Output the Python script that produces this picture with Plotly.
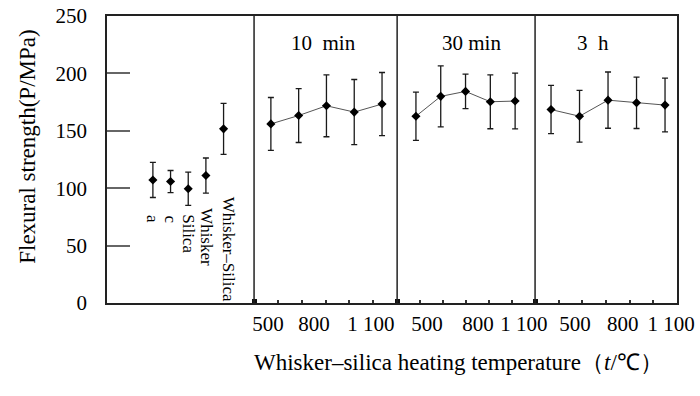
import plotly.graph_objects as go

# ---------------- data ----------------
ref_labels = ["a", "c", "Silica", "Whisker", "Whisker\u2013Silica"]
ref_values = [107.2, 105.8, 99.5, 111.0, 151.7]
ref_errors = [15.3, 9.6, 14.5, 15.3, 22.2]

group_names = ["10\u00a0\u00a0min", "30 min", "3\u00a0\u00a0h"]
temperatures = [500, 650, 800, 950, 1100]
values_10min = [156.0, 163.3, 171.8, 166.3, 173.3]
errors_10min = [23.0, 23.5, 27.0, 28.4, 27.5]
values_30min = [162.7, 180.0, 184.3, 175.3, 175.9]
errors_30min = [21.0, 26.5, 15.0, 23.5, 24.3]
values_3h = [168.5, 162.7, 176.7, 174.4, 172.4]
errors_3h = [21.0, 22.5, 24.5, 22.4, 23.4]

tick_labels = ["500", "800", "1\u00a0100"] * 3
y_ticks = [0, 50, 100, 150, 200, 250]

# ---------------- layout constants ----------------
FONT = "Liberation Serif, Times New Roman, serif"
X_RANGE = [0, 20]
dividers = [5.16, 10.18, 15.02, 20.0]
ref_start, ref_step = 1.61, 0.62
group_starts = [5.75, 10.84, 15.58]
group_steps = [0.975, 0.87, 1.0]
tick_pos = [5.65, 7.26, 9.26, 11.23, 13.02, 14.63, 16.42, 18.1, 19.79]
title_pos = [7.58, 12.8, 17.05]

fig = go.Figure()

err_style = dict(type="data", visible=True, color="#1a1a1a", thickness=1.3, width=3)
marker_style = dict(symbol="diamond", size=7, color="black")

# reference samples
ref_x = [ref_start + i * ref_step for i in range(len(ref_values))]
fig.add_trace(go.Scatter(
    x=ref_x, y=ref_values, mode="markers",
    error_y=dict(array=ref_errors, **err_style),
    marker=marker_style, showlegend=False))

# heated groups
for start, step, vals, errs in zip(group_starts, group_steps,
                                   [values_10min, values_30min, values_3h],
                                   [errors_10min, errors_30min, errors_3h]):
    xs = [start + i * step for i in range(len(temperatures))]
    fig.add_trace(go.Scatter(
        x=xs, y=vals, mode="lines+markers",
        line=dict(color="#555555", width=1),
        error_y=dict(array=errs, **err_style),
        marker=marker_style, showlegend=False))

# dividers
for d in dividers[:-1]:
    fig.add_shape(type="line", x0=d, x1=d, y0=0, y1=250, xref="x", yref="y",
                  line=dict(color="#222222", width=1.5))

# minor dot ticks along bottom
minor_vals = []
for a, b in zip(dividers[:-1], dividers[1:]):
    minor_vals += [a + k * (b - a) / 6 for k in range(1, 6)]

annotations = []
# group titles
for name, xp in zip(group_names, title_pos):
    annotations.append(dict(x=xp, y=226.5, xref="x", yref="y", text=name,
                            showarrow=False, font=dict(size=21, color="black", family=FONT)))
# rotated reference labels
label_x_off = [0, 0, 0, 0, 0.18]
label_tops = [78.4, 78.4, 79.3, 84.5, 94.1]
for lab, xp, off, top in zip(ref_labels, ref_x, label_x_off, label_tops):
    annotations.append(dict(x=xp + off, y=top, xref="x", yref="y", text=lab,
                            textangle=90, yanchor="top", xanchor="center",
                            showarrow=False, font=dict(size=17, color="black", family=FONT)))
# axis titles
annotations.append(dict(x=-0.14, y=0.545, xref="paper", yref="paper",
                        xanchor="center", yanchor="middle",
                        text="Flexural strength(P/MPa)", textangle=-90,
                        showarrow=False, font=dict(size=23, color="black", family=FONT)))
annotations.append(dict(x=0.617, y=-0.2056, xref="paper", yref="paper",
                        xanchor="center", yanchor="middle",
                        text="Whisker\u2013silica heating temperature\uff08<i>t</i>/\u2103\uff09",
                        showarrow=False, font=dict(size=23, color="black", family=FONT)))

fig.update_layout(
    width=700, height=396,
    margin=dict(l=107, r=23, t=16, b=93, autoexpand=False),
    paper_bgcolor="white", plot_bgcolor="white",
    font=dict(family=FONT, size=21, color="black"),
    annotations=annotations,
    xaxis=dict(range=X_RANGE, showgrid=False, zeroline=False, automargin=False,
               showline=True, linecolor="#222222", linewidth=1.5, mirror=True,
               tickmode="array", tickvals=tick_pos, ticktext=tick_labels,
               ticks="", ticklabelstandoff=1,
               tickfont=dict(size=21, family=FONT, color="black"),
               minor=dict(tickmode="array", tickvals=minor_vals, ticks="inside",
                          ticklen=3, tickwidth=1.5, tickcolor="#333333")),
    xaxis2=dict(range=X_RANGE, overlaying="x", side="bottom", anchor="y",
                automargin=False,
                showgrid=False, zeroline=False, showline=False,
                tickmode="array", tickvals=dividers[:-1], ticktext=["", "", ""],
                ticks="inside", ticklen=4, tickwidth=5, tickcolor="#111111"),
    yaxis=dict(range=[0, 250], showgrid=False, zeroline=False, automargin=False,
               showline=True, linecolor="#222222", linewidth=1.5, mirror=True,
               tickmode="array", tickvals=y_ticks,
               ticks="inside", ticklen=23, tickwidth=1.5, tickcolor="#666666",
               ticklabelstandoff=14,
               tickfont=dict(size=21, family=FONT, color="black")),
)
fig.add_trace(go.Scatter(x=[None], y=[None], xaxis="x2", showlegend=False))

fig.write_html("out.html", config={"displayModeBar": False},
               post_script="document.body.style.margin='0';document.body.style.overflow='hidden';")
